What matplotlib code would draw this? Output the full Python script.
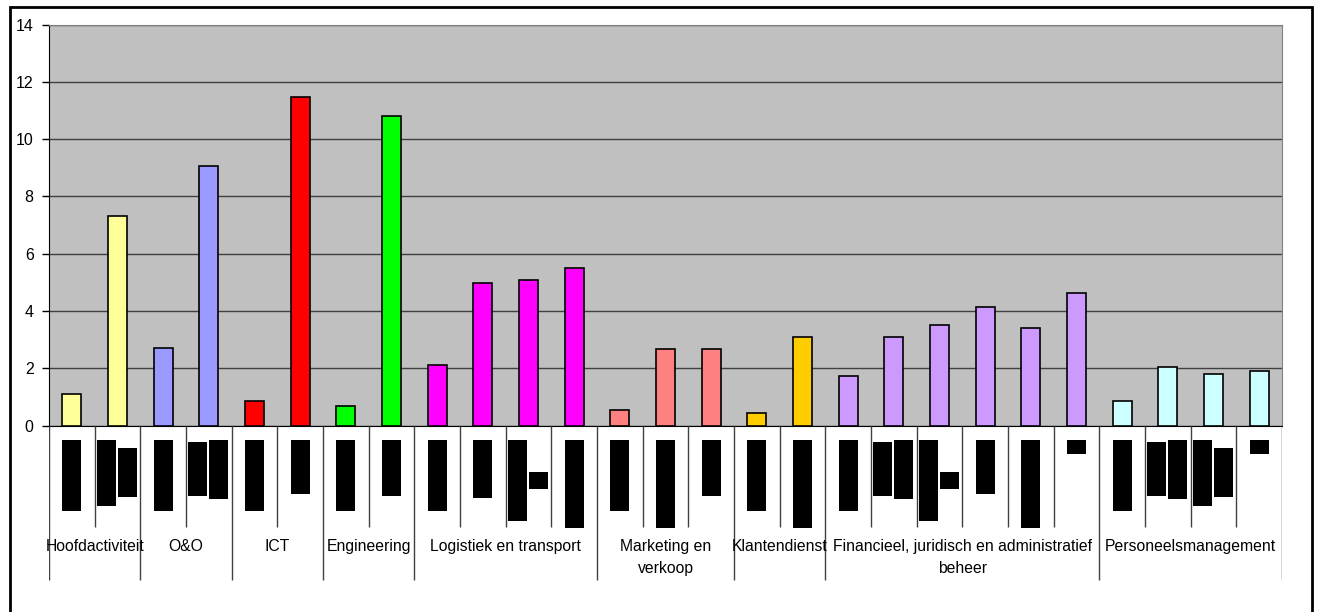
import matplotlib.pyplot as plt
from matplotlib.patches import Rectangle

plt.rcParams['font.family'] = ['Liberation Sans', 'DejaVu Sans']

# groups and their bars
groups = ['Hoofdactiviteit', 'O&O', 'ICT', 'Engineering', 'Logistiek en transport',
          'Marketing en\nverkoop', 'Klantendienst',
          'Financieel, juridisch en administratief\nbeheer', 'Personeelsmanagement']
values = [
    [1.1, 7.33],
    [2.7, 9.05],
    [0.85, 11.47],
    [0.7, 10.8],
    [2.1, 4.99, 5.09, 5.51],
    [0.56, 2.69, 2.69],
    [0.44, 3.09],
    [1.74, 3.09, 3.51, 4.15, 3.40, 4.63],
    [0.86, 2.03, 1.80, 1.92],
]
colors = ['#FFFF99', '#9999FF', '#FF0000', '#00FF00', '#FF00FF',
          '#FF8080', '#FFCC00', '#CC99FF', '#CCFFFF']
yticks = [0, 2, 4, 6, 8, 10, 12, 14]

# unreadable sub-labels appear as black blocks: (shift, top px, bottom px)
A = [(0, 14, 85)]
B = [(-0.24, 14, 80), (0.21, 22, 71)]
C = [(-0.24, 16, 70), (0.21, 14, 73)]
D = [(-0.24, 14, 95), (0.21, 46, 63)]
blobs = [A, B, A, C, A, [(0, 14, 68)], A, [(0, 14, 70)],
         A, [(0, 14, 72)], D, [(0, 14, 102)],
         A, [(0, 14, 102)], [(0, 14, 70)],
         A, [(0, 14, 102)],
         A, C, D, [(0, 14, 68)], [(0, 14, 102)], [(0, 14, 28)],
         A, C, B, [(0, 14, 28)]]

W, H = 1319, 612
fig = plt.figure(figsize=(W / 100, H / 100), dpi=100)

# outer frame
fig.patches.append(Rectangle((10 / W, -0.1), 1302 / W, 1.1 - 7 / H,
                             transform=fig.transFigure, fill=False,
                             edgecolor='black', linewidth=2))

left, right, top, bottom = 49, 1282, 24.5, 425.6
ax = fig.add_axes([left / W, 1 - bottom / H, (right - left) / W, (bottom - top) / H])
ax.set_facecolor('#C0C0C0')

n = sum(len(v) for v in values)
xs, hs, cs = [], [], []
i = 0
bounds = [0]
for g, vals in enumerate(values):
    for v in vals:
        xs.append(i + 0.5)
        hs.append(v)
        cs.append(colors[g])
        i += 1
    bounds.append(i)

ax.set_axisbelow(True)
ax.yaxis.grid(True, color='#404040', linewidth=1)
ax.bar(xs, hs, width=0.42, color=cs, edgecolor='black', linewidth=1.2, zorder=3)
ax.set_xlim(0, n)
ax.set_ylim(0, 14)
ax.set_yticks(yticks)
ax.set_yticklabels([str(t) for t in yticks], fontsize=11.5)
ax.tick_params(axis='y', length=5, width=1, pad=6)
ax.set_xticks([])
ax.spines['left'].set_color('black')
ax.spines['bottom'].set_color('black')
ax.spines['top'].set_color('#808080')
ax.spines['right'].set_color('#808080')

# category axis area
ax2 = fig.add_axes([left / W, 1 - 605 / H, (right - left) / W, (605 - bottom) / H])
ax2.set_xlim(0, n)
ax2.set_ylim(605 - bottom, 0)
ax2.axis('off')
scale = (right - left) / n
for k in range(n + 1):
    if k in bounds:
        ax2.plot([k, k], [0, 154], color='#404040', lw=1, solid_capstyle='butt')
    else:
        ax2.plot([k, k], [0, 101], color='#404040', lw=1, solid_capstyle='butt')
for k, shapes in enumerate(blobs):
    for dx, t, b in shapes:
        w = 19 / scale
        ax2.add_patch(Rectangle((k + 0.5 + dx - w / 2, t), w, b - t,
                                facecolor='black', edgecolor='none'))
for g, name in enumerate(groups):
    cx = (bounds[g] + bounds[g + 1]) / 2
    ax2.text(cx, 113, name, ha='center', va='top', fontsize=11.3,
             linespacing=1.6)

fig.savefig('out.png', dpi=100)
